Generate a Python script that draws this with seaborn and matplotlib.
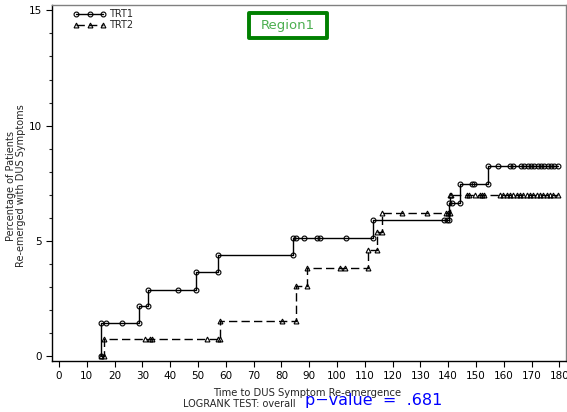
import seaborn as sns
import matplotlib.pyplot as plt
from matplotlib.ticker import MultipleLocator
from matplotlib.patches import Rectangle
import pandas as pd

# step curve points (time, cumulative %), censor marks included
trt1_time = [15, 15, 16.8, 22.8, 28.9, 28.9, 32.1, 32.1, 42.9, 49.2, 49.2, 57.1, 57.1,
             84.1, 84.1, 85.1, 88.1, 92.9, 93.9, 103.1, 113.1, 113.1, 138.5, 139.7,
             140.3, 140.3, 141.3, 144.2, 144.2, 148.5, 149.3, 154.4, 154.4, 157.8,
             162.2, 163.4, 166.2, 167.4, 168.6, 169.8, 171.0, 172.2, 173.4, 174.6,
             175.8, 177.0, 178.2, 179.6]
trt1_pct = [0, 1.43, 1.43, 1.43, 1.43, 2.17, 2.17, 2.89, 2.89, 2.89, 3.64, 3.64, 4.39,
            4.39, 5.11, 5.11, 5.11, 5.11, 5.11, 5.11, 5.11, 5.89, 5.89, 5.89,
            5.89, 6.66, 6.66, 6.66, 7.45, 7.45, 7.45, 7.45, 8.27, 8.27,
            8.27, 8.27, 8.27, 8.27, 8.27, 8.27, 8.27, 8.27, 8.27, 8.27,
            8.27, 8.27, 8.27, 8.27]

trt2_time = [15.2, 16.2, 16.2, 30.9, 32.8, 33.6, 53.1, 57.1, 57.9, 57.9, 80.1, 85.3, 85.3,
             89.3, 89.3, 101.1, 102.9, 111.3, 111.3, 114.3, 114.3, 116.3, 116.3, 123.3,
             132.3, 139.2, 140.0, 140.6, 140.6, 141.0, 146.7, 147.5, 149.6, 151.4, 152.3,
             152.9, 158.6, 159.8, 161.0, 162.2, 163.4, 164.6, 165.8, 167.0, 168.2, 169.4,
             170.6, 171.8, 173.0, 174.2, 175.4, 176.6, 177.8, 179.6]
trt2_pct = [0, 0, 0.75, 0.75, 0.75, 0.75, 0.75, 0.75, 0.75, 1.52, 1.52, 1.52, 3.03,
            3.03, 3.81, 3.81, 3.81, 3.81, 4.60, 4.60, 5.38, 5.38, 6.22, 6.22,
            6.22, 6.22, 6.22, 6.22, 7.0, 7.0, 7.0, 7.0, 7.0, 7.0, 7.0,
            7.0, 7.0, 7.0, 7.0, 7.0, 7.0, 7.0, 7.0, 7.0, 7.0, 7.0,
            7.0, 7.0, 7.0, 7.0, 7.0, 7.0, 7.0, 7.0]

x_ticks = list(range(0, 181, 10))
y_ticks = [0, 5, 10, 15]

sns.set_theme(style="ticks")
plt.rcParams['font.family'] = ['DejaVu Sans']

d1 = pd.DataFrame({"time": trt1_time, "pct": trt1_pct})
d2 = pd.DataFrame({"time": trt2_time, "pct": trt2_pct})

fig = plt.figure(figsize=(5.67, 4.12), dpi=100)
ax = fig.add_axes([52/567, 1-361/412, (566-52)/567, (361-5)/412])

sns.lineplot(data=d1, x="time", y="pct", ax=ax, estimator=None, sort=False,
             drawstyle="steps-post", color="black", linewidth=1,
             marker="o", markersize=3.5, markerfacecolor="none",
             markeredgecolor="black", markeredgewidth=0.8, label="TRT1")
sns.lineplot(data=d2, x="time", y="pct", ax=ax, estimator=None, sort=False,
             drawstyle="steps-post", color="black", linewidth=1, dashes=(6, 3),
             marker="^", markersize=3.5, markerfacecolor="none",
             markeredgecolor="black", markeredgewidth=0.8, label="TRT2")

ax.set_xlim(-2.5, 182.4)
ax.set_ylim(-0.2, 15.23)
ax.set_xticks(x_ticks)
ax.set_yticks(y_ticks)
ax.yaxis.set_minor_locator(MultipleLocator(1))
ax.tick_params(axis="both", which="major", labelsize=7.5, length=4, width=0.8, colors="black")
ax.tick_params(axis="y", which="minor", length=2.5, width=0.8)
for s in ["left", "bottom"]:
    ax.spines[s].set_color("black")
    ax.spines[s].set_linewidth(1)
for s in ["top", "right"]:
    ax.spines[s].set_color("gray")
    ax.spines[s].set_linewidth(1)

ax.set_xlabel("")
ax.set_ylabel("")
fig.text(16/567, 1-186/412, "Percentage of Patients\nRe-emerged with DUS Symptoms",
         rotation=90, ha="center", va="center", fontsize=7, linespacing=1.1)

leg = ax.legend(loc="upper left", bbox_to_anchor=(0.03, 1.005), frameon=False,
                fontsize=7, numpoints=3, handlelength=3.4, handletextpad=0.3,
                labelspacing=0.1, borderaxespad=0.2)

# green "Region1" box
fig.patches.append(Rectangle((249/567, 1-38/412), 78/567, 25/412, transform=fig.transFigure,
                             facecolor="white", edgecolor="#008000", linewidth=2.8,
                             joinstyle="round", figure=fig, zorder=5))
fig.text(288/567, 1-25.5/412, "Region1", ha="center", va="center",
         fontsize=9.5, color="#4caf50", zorder=6)

fig.text(307/567, 1-393/412, "Time to DUS Symptom Re-emergence", ha="center", va="center", fontsize=7.2)
fig.text(296/567, 1-404/412, "LOGRANK TEST: overall", ha="right", va="center", fontsize=7)
fig.text(305/567, 1-401/412, "p\u2212value  =  .681", ha="left", va="center", fontsize=11.5, color="#0000ff")

fig.savefig("out.png", dpi=100)
